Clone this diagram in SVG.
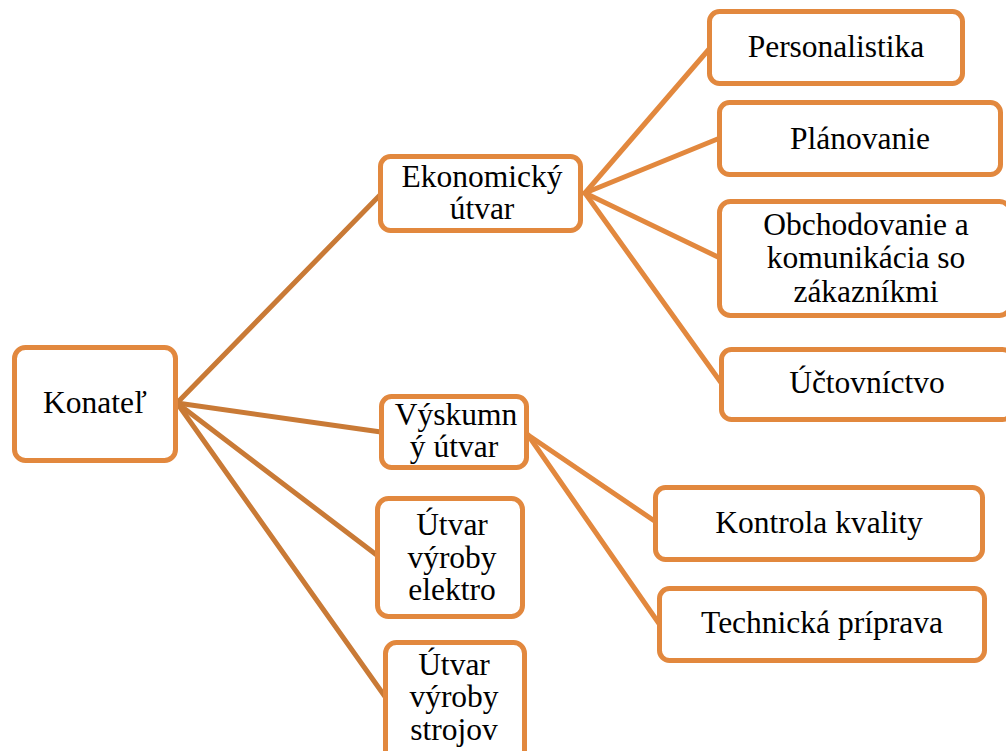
<svg xmlns="http://www.w3.org/2000/svg" width="1006" height="751" viewBox="0 0 1006 751">
  <style>
    .box { fill: #ffffff; stroke: #E2883E; stroke-width: 5; }
    .lbl { font-family: "Liberation Serif", "Times New Roman", serif; font-size: 31.5px; fill: #000000; text-anchor: middle; }
    .root-link { stroke: #C97A36; stroke-width: 5; fill: none; stroke-linecap: round; }
    .sub-link { stroke: #E2883E; stroke-width: 5; fill: none; stroke-linecap: round; }
  </style>
  <rect width="1006" height="751" fill="#ffffff"/>

  <!-- connectors -->
  <g id="connectors">
    <line class="root-link" x1="177" y1="403" x2="381" y2="194"/>
    <line class="root-link" x1="177" y1="403" x2="381" y2="432"/>
    <line class="root-link" x1="177" y1="403" x2="378" y2="556"/>
    <line class="root-link" x1="177" y1="403" x2="386" y2="698"/>
    <line class="sub-link" x1="585" y1="193" x2="710" y2="48"/>
    <line class="sub-link" x1="585" y1="193" x2="720" y2="138"/>
    <line class="sub-link" x1="585" y1="193" x2="720" y2="258"/>
    <line class="sub-link" x1="585" y1="193" x2="722" y2="384"/>
    <line class="sub-link" x1="528" y1="435" x2="656" y2="522"/>
    <line class="sub-link" x1="528" y1="435" x2="660" y2="625"/>
  </g>

  <g id="konatel">
    <rect class="box" x="14.5" y="347.5" width="161" height="113" rx="11"/>
    <text class="lbl" x="95" y="413">Konateľ</text>
  </g>

  <g id="ekonomicky-utvar">
    <rect class="box" x="380.5" y="156.5" width="200" height="74" rx="10"/>
    <text class="lbl" x="482" y="187">Ekonomický</text>
    <text class="lbl" x="482" y="219">útvar</text>
  </g>

  <g id="personalistika">
    <rect class="box" x="709.5" y="11.5" width="253" height="72" rx="10"/>
    <text class="lbl" x="836" y="57">Personalistika</text>
  </g>

  <g id="planovanie">
    <rect class="box" x="719.5" y="102.5" width="281" height="72" rx="10"/>
    <text class="lbl" x="860" y="149">Plánovanie</text>
  </g>

  <g id="obchodovanie">
    <rect class="box" x="719.5" y="201.5" width="291" height="114" rx="11"/>
    <text class="lbl" x="866" y="235">Obchodovanie a</text>
    <text class="lbl" x="866" y="268">komunikácia so</text>
    <text class="lbl" x="866" y="302">zákazníkmi</text>
  </g>

  <g id="uctovnictvo">
    <rect class="box" x="721.5" y="349.5" width="291" height="70" rx="10"/>
    <text class="lbl" x="867" y="393">Účtovníctvo</text>
  </g>

  <g id="vyskumny-utvar">
    <rect class="box" x="381.5" y="396.5" width="145" height="71" rx="10"/>
    <text class="lbl" x="456" y="425">Výskumn</text>
    <text class="lbl" x="454" y="457">ý útvar</text>
  </g>

  <g id="utvar-vyroby-elektro">
    <rect class="box" x="377.5" y="498.5" width="145" height="118" rx="11"/>
    <text class="lbl" x="452" y="535">Útvar</text>
    <text class="lbl" x="452" y="568">výroby</text>
    <text class="lbl" x="452" y="600">elektro</text>
  </g>

  <g id="utvar-vyroby-strojov">
    <rect class="box" x="385.5" y="642.5" width="139" height="120" rx="11"/>
    <text class="lbl" x="454" y="675">Útvar</text>
    <text class="lbl" x="454" y="707">výroby</text>
    <text class="lbl" x="454" y="740">strojov</text>
  </g>

  <g id="kontrola-kvality">
    <rect class="box" x="655.5" y="487.5" width="327" height="72" rx="10"/>
    <text class="lbl" x="819" y="533">Kontrola kvality</text>
  </g>

  <g id="technicka-priprava">
    <rect class="box" x="659.5" y="588.5" width="325" height="72" rx="10"/>
    <text class="lbl" x="822" y="633">Technická príprava</text>
  </g>
</svg>
